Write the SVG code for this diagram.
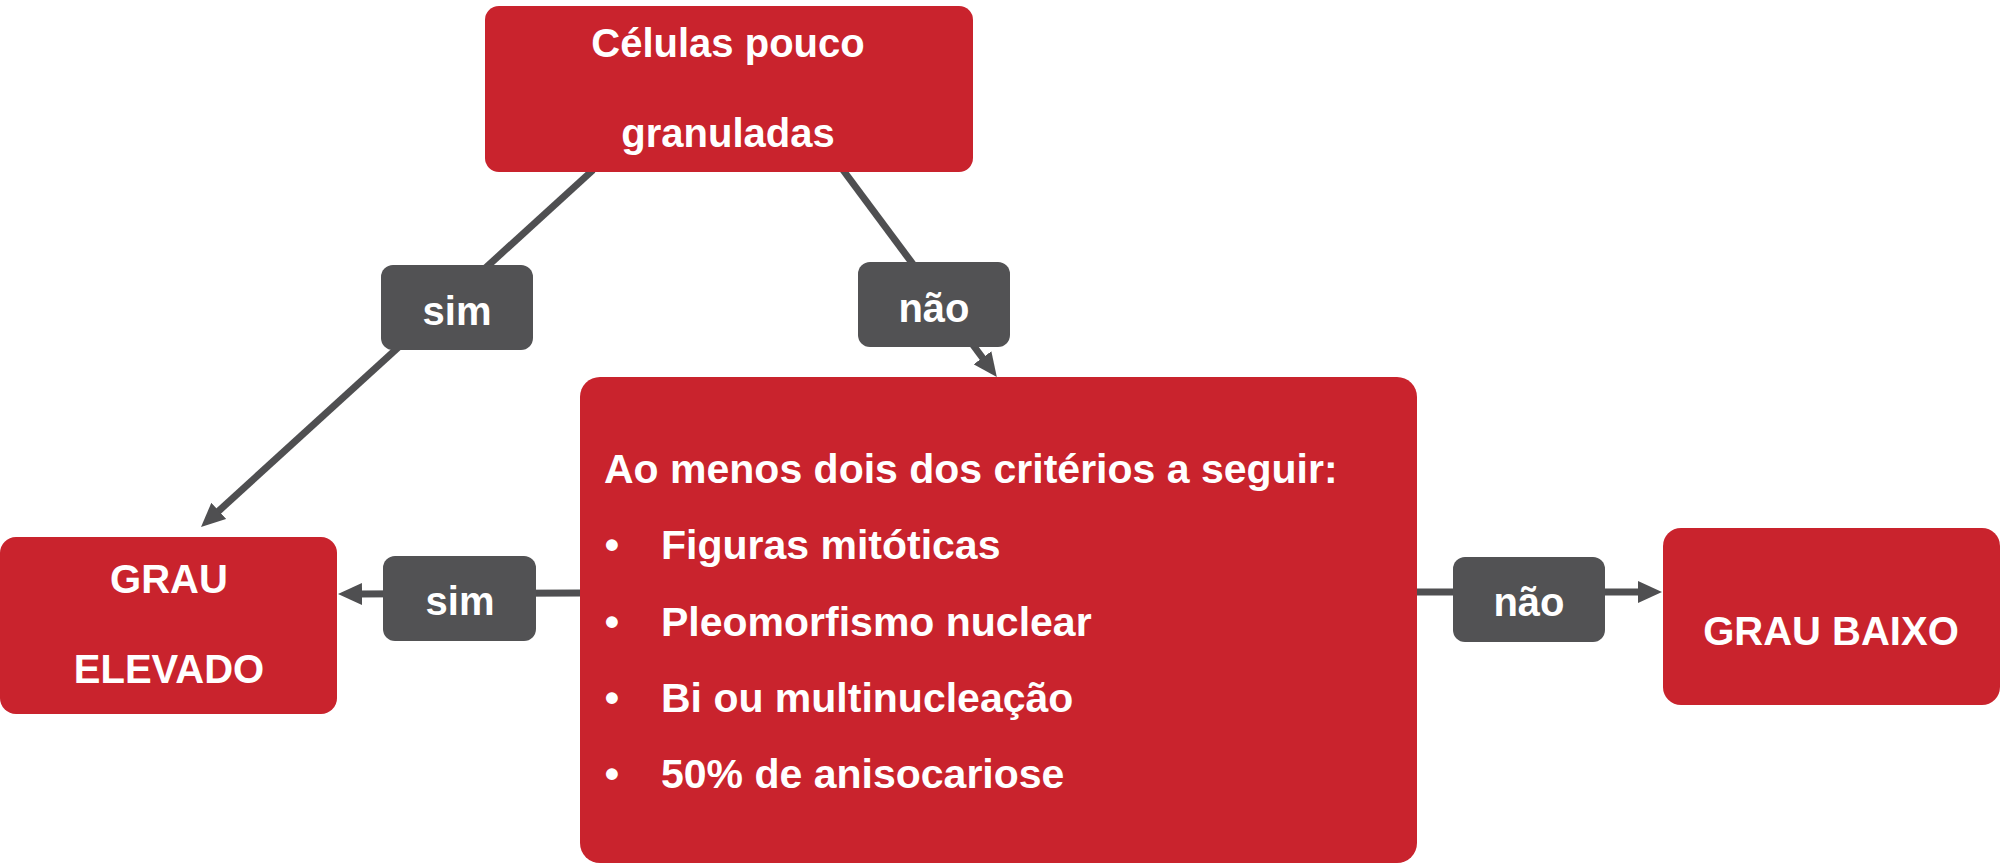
<svg xmlns="http://www.w3.org/2000/svg" width="2000" height="863" viewBox="0 0 2000 863">
<style>
.node{fill:#C9232D}
.lbl{fill:#525254}
.t{font-family:"Liberation Sans",Arial,sans-serif;font-weight:bold;font-size:40px;fill:#FFFFFF}
.c{text-anchor:middle}
.edge{stroke:#4F4F51;stroke-width:7;fill:none}
</style>
<defs>
<marker id="arr" viewBox="0 0 24 22" refX="4" refY="11" markerWidth="24" markerHeight="22" markerUnits="userSpaceOnUse" orient="auto">
<path d="M0,0 L24,11 L0,22 z" fill="#4F4F51"/>
</marker>
</defs>
<rect width="2000" height="863" fill="#FFFFFF"/>
<g id="connectors">
<line class="edge" x1="593" y1="170" x2="215.8" y2="513.6" marker-end="url(#arr)"/>
<line class="edge" x1="843" y1="170" x2="984.9" y2="361" marker-end="url(#arr)"/>
<line class="edge" x1="582" y1="593" x2="358" y2="594" marker-end="url(#arr)"/>
<line class="edge" x1="1415" y1="592" x2="1642" y2="592" marker-end="url(#arr)"/>
</g>
<g id="node-celulas">
<rect class="node" x="485" y="6" width="488" height="166" rx="14"/>
<text class="t c" x="728" y="57">Células pouco</text>
<text class="t c" x="728" y="147">granuladas</text>
</g>
<g id="label-sim-top">
<rect class="lbl" x="381" y="265" width="152" height="85" rx="12"/>
<text class="t c" x="457" y="325">sim</text>
</g>
<g id="label-nao-top">
<rect class="lbl" x="858" y="262" width="152" height="85" rx="12"/>
<text class="t c" x="934" y="322">não</text>
</g>
<g id="node-criterios">
<rect class="node" x="580" y="377" width="837" height="486" rx="20"/>
<text class="t" x="604" y="483" style="font-size:41px">Ao menos dois dos critérios a seguir:</text>
<text class="t" x="612" y="559" style="font-size:41px" text-anchor="middle">•</text>
<text class="t" x="661" y="559" style="font-size:41px">Figuras mitóticas</text>
<text class="t" x="612" y="636" style="font-size:41px" text-anchor="middle">•</text>
<text class="t" x="661" y="636" style="font-size:41px">Pleomorfismo nuclear</text>
<text class="t" x="612" y="712" style="font-size:41px" text-anchor="middle">•</text>
<text class="t" x="661" y="712" style="font-size:41px">Bi ou multinucleação</text>
<text class="t" x="612" y="788" style="font-size:41px" text-anchor="middle">•</text>
<text class="t" x="661" y="788" style="font-size:41px">50% de anisocariose</text>
</g>
<g id="node-grau-elevado">
<rect class="node" x="0" y="537" width="337" height="177" rx="16"/>
<text class="t c" x="169" y="593">GRAU</text>
<text class="t c" x="169" y="683">ELEVADO</text>
</g>
<g id="label-sim-left">
<rect class="lbl" x="383" y="556" width="153" height="85" rx="12"/>
<text class="t c" x="460" y="615">sim</text>
</g>
<g id="label-nao-right">
<rect class="lbl" x="1453" y="557" width="152" height="85" rx="12"/>
<text class="t c" x="1529" y="616">não</text>
</g>
<g id="node-grau-baixo">
<rect class="node" x="1663" y="528" width="337" height="177" rx="18"/>
<text class="t c" x="1831" y="645">GRAU BAIXO</text>
</g>
</svg>
